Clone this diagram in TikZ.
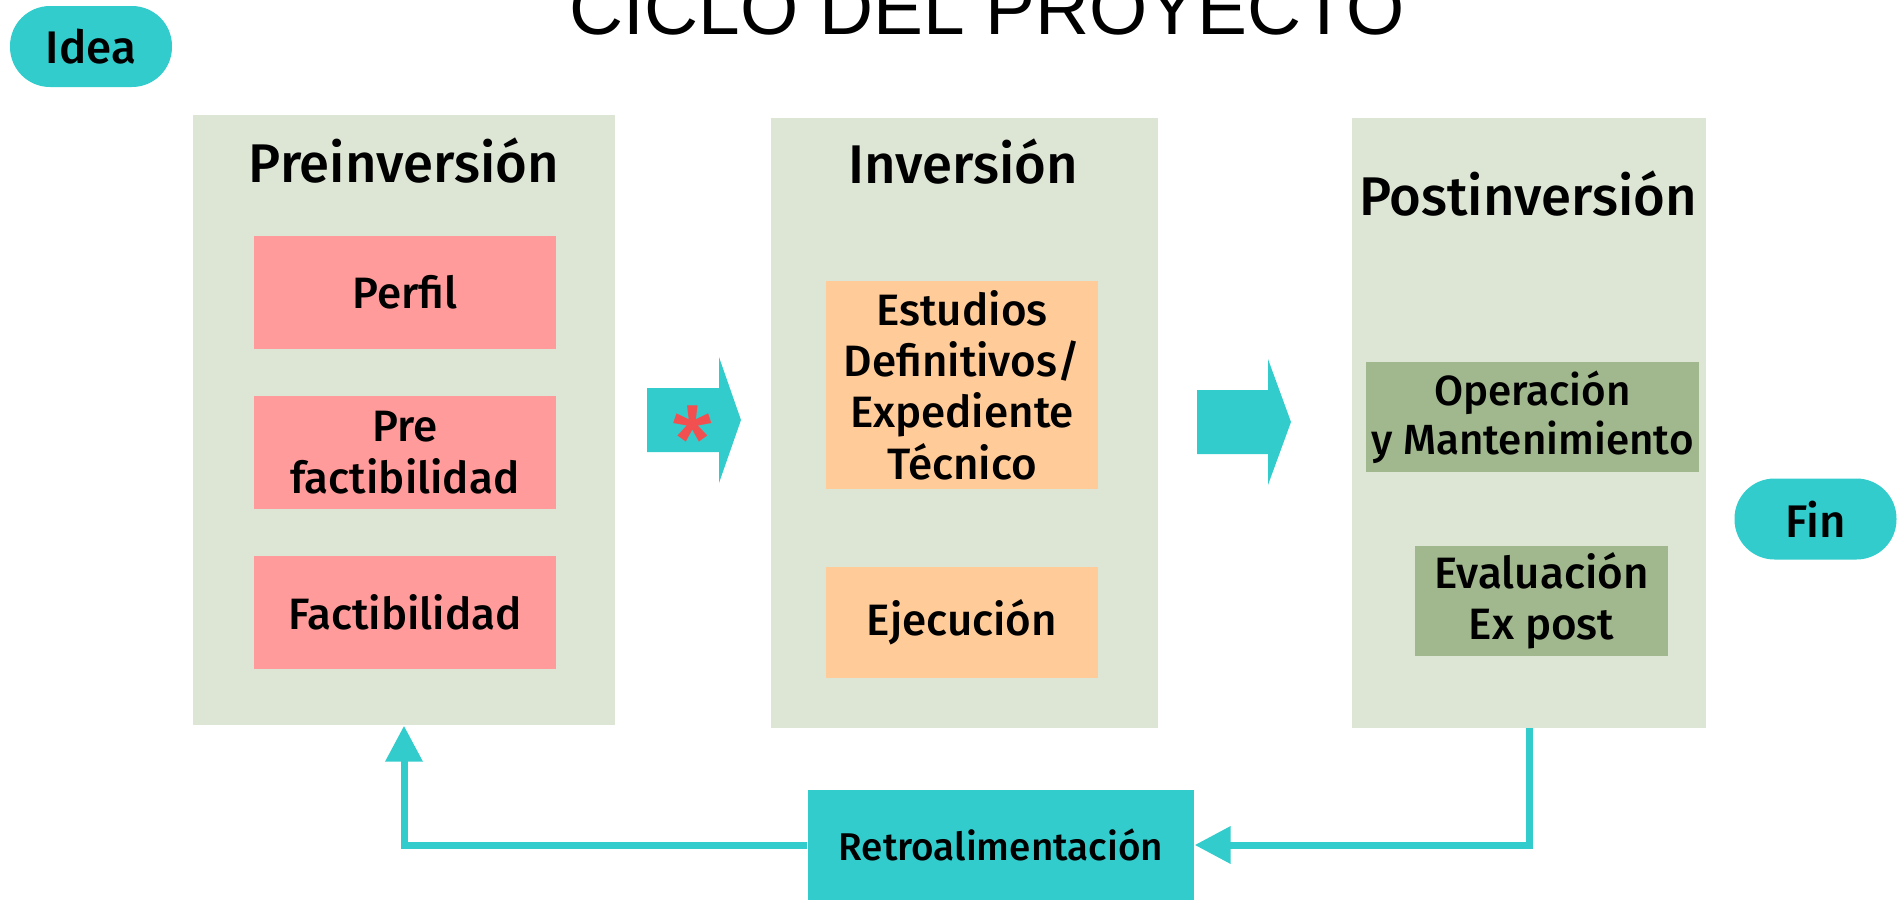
\documentclass[tikz,border=0pt]{standalone}
\usepackage{fontspec}
\setmainfont{Fira Sans Medium}
\newfontfamily\titlefont{Liberation Sans}
\usetikzlibrary{arrows.meta}

\definecolor{turq}{HTML}{33CCCC}
\definecolor{panelbg}{HTML}{DDE5D4}
\definecolor{pinkbox}{HTML}{FF9B9B}
\definecolor{orangebox}{HTML}{FFCB99}
\definecolor{greenbox}{HTML}{A1B78D}
\definecolor{asterred}{HTML}{F25050}

\begin{document}
\begin{tikzpicture}[x=0.1mm,y=-0.1mm,
  every node/.style={align=center,inner sep=0pt},
  panel/.style={fill=panelbg,minimum height=61mm},
  head/.style={font=\fontsize{15.5}{18}\selectfont},
  txt/.style={font=\fontsize{12.5}{14.6}\selectfont},
  pill/.style={fill=turq,rounded corners=4mm,minimum width=16.2mm,minimum height=8.1mm,
    font=\fontsize{13}{15}\selectfont},
  fb/.style={turq,line width=0.7mm},
  fbtip/.style={-{Triangle[length=3.6mm,width=3.6mm]}}]
\useasboundingbox (0,0) rectangle (1899,902);

% title, cut at the top
\node[font=\titlefont\fontsize{21.3}{24}\selectfont,anchor=base] (title) at (987,34) {CICLO DEL PROYECTO};

\node[pill] (idea) at (91,46.5) {Idea};
\node[pill] (fin)  at (1815.5,519) {Fin};

% the three stages
\node[panel,minimum width=42.2mm] (pre)  at (404,420)    {};
\node[panel,minimum width=38.7mm] (inv)  at (964.5,422.5) {};
\node[panel,minimum width=35.4mm] (post) at (1529,422.5) {};

\node[head] (prehead)  at (404,161)  {Preinversión};
\node[head] (invhead)  at (963,162)  {Inversión};
\node[head] (posthead) at (1528,194) {Postinversión};

\node[txt,fill=pinkbox,minimum width=30.2mm,minimum height=11.3mm] (perfil) at (405,292.5) {Perfil};
\node[txt,fill=pinkbox,minimum width=30.2mm,minimum height=11.3mm] (prefac) at (405,452.5) {Pre\\factibilidad};
\node[txt,fill=pinkbox,minimum width=30.2mm,minimum height=11.3mm] (fac)    at (405,612.5) {Factibilidad};

\node[txt,fill=orangebox,minimum width=27.2mm,minimum height=20.8mm] (estud) at (962,385)   {Estudios\\Definitivos/\\Expediente\\Técnico};
\node[txt,fill=orangebox,minimum width=27.2mm,minimum height=11.1mm] (ejec)  at (962,622.5) {Ejecución};

\node[txt,fill=greenbox,minimum width=33.3mm,minimum height=11mm,font=\fontsize{12}{14}\selectfont] (oper) at (1532.5,417) {Operación\\y Mantenimiento};
\node[txt,fill=greenbox,minimum width=25.3mm,minimum height=11mm] (eval) at (1541.5,601) {Evaluación\\Ex post};

% block arrows between stages
\coordinate (ar1) at (647,420);
\coordinate (ar2) at (1197,422);
\fill[turq] (ar1) ++(0,-32) -- ++(72,0) -- ++(0,-31) -- ++(22,63) -- ++(-22,63) -- ++(0,-31) -- ++(-72,0) -- cycle;
\fill[turq] (ar2) ++(0,-32) -- ++(71,0) -- ++(0,-31) -- ++(23,63) -- ++(-23,63) -- ++(0,-31) -- ++(-71,0) -- cycle;
\node[text=asterred,font=\fontsize{26}{26}\selectfont] (aster) at (693,440) {*};

% feedback loop
\node[fill=turq,minimum width=38.6mm,minimum height=11mm,font=\fontsize{11}{13}\selectfont] (retro) at (1001,845) {Retroalimentación};
\draw[fb,fbtip] (post.south) |- (retro.east);
\draw[fb,fbtip] (retro.west) -| (pre.south);
\end{tikzpicture}
\end{document}
